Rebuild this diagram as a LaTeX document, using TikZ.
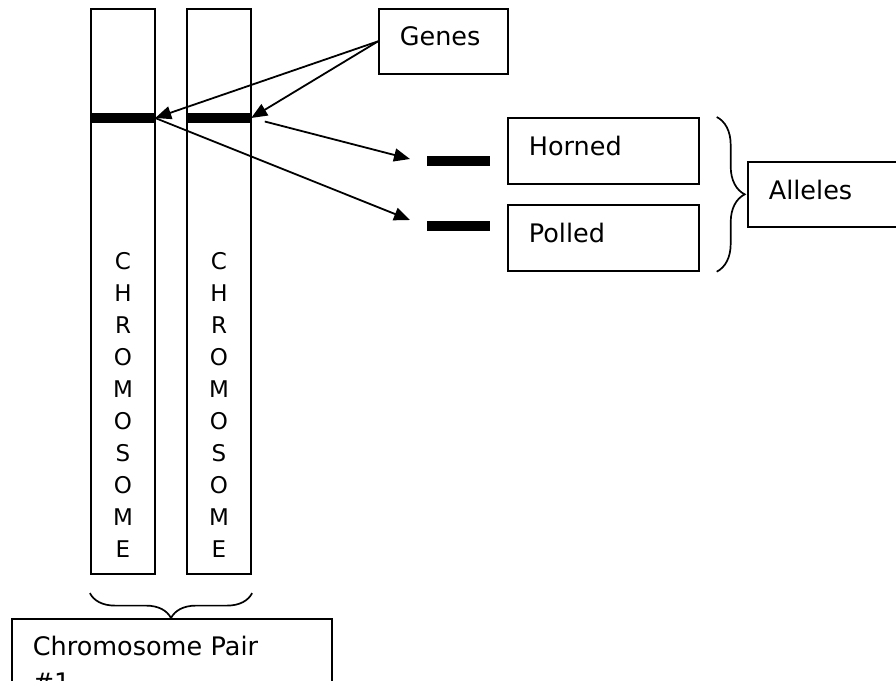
\documentclass[tikz,border=0pt]{standalone}
\usepackage{fontspec}
\setmainfont{DejaVu Sans}
\usepackage{tikz}
\usetikzlibrary{calc,arrows.meta,decorations.pathreplacing}

\tikzset{
  box/.style={draw, line width=1.7pt, anchor=north west, inner xsep=21pt, inner ysep=0pt,
    align=left, font=\fontsize{25.5}{36}\selectfont},
  chrom/.style={draw, line width=2.2pt, minimum width=64pt, minimum height=565pt, inner sep=0pt},
  band/.style={fill=black, minimum width=64pt, minimum height=10pt, inner sep=0pt},
  letter/.style={inner sep=0pt, font=\fontsize{23}{26}\selectfont},
  arr/.style={line width=1.8pt, -{Triangle[length=16pt,width=13pt]}},
  brace/.style={decorate, decoration={brace, amplitude=#1}, line width=1.7pt},
}

\begin{document}
\begin{tikzpicture}[x=1pt,y=-1pt]
  \useasboundingbox (0,0) rectangle (896,680);
  \clip (0,0) rectangle (896,680);
  % chromosome pair
  \node[chrom] (chr1) at (123,291.5) {};
  \node[chrom] (chr2) at (219,291.5) {};
  \node[band] (band1) at (123,118) {};
  \node[band] (band2) at (219,118) {};
  \foreach \l [count=\i from 0] in {C,H,R,O,M,O,S,O,M,E} {
    \node[letter] (la\i) at (123,{261+32*\i}) {\l};
    \node[letter] (lb\i) at (219,{261+32*\i}) {\l};
  }
  % labels
  \node[box, text width=87pt, text height=37pt, text depth=28pt] (genes) at (378,8) {Genes};
  \node[box, text width=149pt, text height=38pt, text depth=28pt] (horned) at (507,117) {Horned};
  \node[box, text width=149pt, text height=38pt, text depth=28pt] (polled) at (507,204) {Polled};
  \node[box, text width=140pt, text height=38pt, text depth=27pt] (alleles) at (747,161) {Alleles};
  \node[box, text width=278pt, text height=37pt, text depth=53pt] (pair) at (11,618) {Chromosome Pair\\\#1};
  % alleles
  \node[band, minimum width=63pt] (hbar) at (458.5,161) {};
  \node[band, minimum width=63pt] (pbar) at (458.5,226) {};
  \coordinate (hend) at (410,159);
  \coordinate (pend) at (410,220);
  % arrows
  \draw[arr] (genes.west) -- (band1.east);
  \draw[arr] (genes.west) -- (band2.east);
  \draw[arr, shorten <=14pt] (band2.east) -- (hend);
  \draw[arr] (band1.east) -- (pend);
  % braces
  \draw[brace=28pt] ($(horned.north east)+(17,0)$) -- ($(polled.south east)+(17,0)$);
  \draw[brace=25pt] ($(chr2.south east)+(0,18)$) -- ($(chr1.south west)+(0,18)$);
\end{tikzpicture}
\end{document}
